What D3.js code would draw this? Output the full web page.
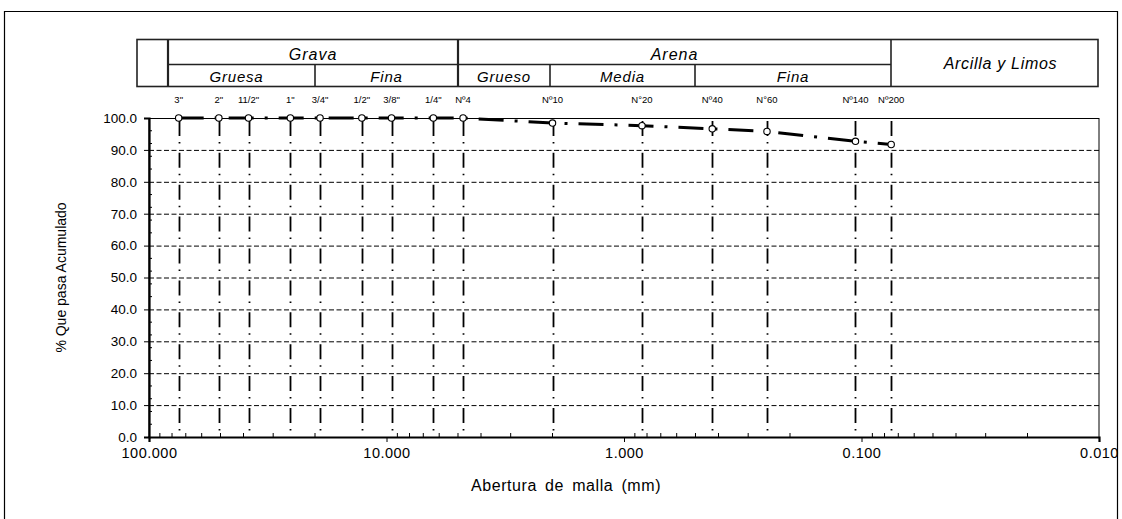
<!DOCTYPE html>
<html>
<head>
<meta charset="utf-8">
<script src="https://cdn.jsdelivr.net/npm/d3@7"></script>
<style>
  body { margin: 0; background: #fff; }
  svg { display: block; font-family: "Liberation Sans", Arial, sans-serif; }
</style>
</head>
<body>
<div id="chart"></div>
<script>
// sieve data (curva granulometrica)
const sieveLabels = ["3\"", "2\"", "11/2\"", "1\"", "3/4\"", "1/2\"", "3/8\"", "1/4\"", "Nº4", "Nº10", "N°20", "Nº40", "N°60", "Nº140", "Nº200"];
const sieveSizes = [75, 50.8, 38.1, 25.4, 19.05, 12.7, 9.525, 6.35, 4.76, 2.0, 0.84, 0.425, 0.25, 0.106, 0.075];
const pctPassing = [100, 100, 100, 100, 100, 100, 100, 100, 100, 98.4, 97.6, 96.6, 95.8, 92.7, 91.7];

// axis ticks
const yTicks = [0, 10, 20, 30, 40, 50, 60, 70, 80, 90, 100];
const yMinorTicks = [4, 8, 12, 16, 24, 28, 32, 36, 44, 48, 52, 56, 64, 68, 72, 76, 84, 88, 92, 96];
const xTicks = [100, 10, 1, 0.1, 0.01];
const xTickLabels = ["100.000", "10.000", "1.000", "0.100", "0.010"];

// header table (classification)
const headTop = ["", "Grava", "Arena", "Arcilla y Limos"];
const headSub = ["Gruesa", "Fina", "Grueso", "Media", "Fina"];

const width = 1122;
const height = 519;

const svg = d3.select("#chart")
    .append("svg")
    .attr("width", width)
    .attr("height", height);

// chart area border
svg.append("path")
    .attr("d", "M4.5,530V11.5H1117.5V530")
    .attr("fill", "none")
    .attr("stroke", "#000")
    .attr("stroke-width", 1.2);

const x = d3.scaleLog().domain([100, 0.01]).range([149, 1099]);
const y = d3.scaleLinear().domain([0, 100]).range([437, 118]);

// ---- header table ----
const hx = [137, 168, 458, 891, 1098];      // top row cell edges
const hsx = [168, 315, 458, 550, 695, 891]; // sub row cell edges
const hy0 = 39.5, hy1 = 64.5, hy2 = 86.5;
const head = svg.append("g").attr("stroke", "#222").attr("stroke-width", 1.6).attr("fill", "none");
head.append("rect").attr("x", hx[0]).attr("y", hy0).attr("width", hx[4] - hx[0]).attr("height", hy2 - hy0);
hx.slice(1, 4).forEach((v) => {
    head.append("line").attr("x1", v).attr("x2", v).attr("y1", hy0).attr("y2", hy2)
        .attr("stroke-width", v === 891 ? 1.6 : 2.2);
});
head.append("line").attr("x1", hx[1]).attr("x2", hx[3]).attr("y1", hy1).attr("y2", hy1);
[hsx[1], hsx[3], hsx[4]].forEach((v) => {
    head.append("line").attr("x1", v).attr("x2", v).attr("y1", hy1).attr("y2", hy2);
});

const headText = svg.append("g").attr("font-style", "italic").attr("fill", "#000").attr("text-anchor", "middle");
headText.append("text").attr("x", (hx[1] + hx[2]) / 2).attr("y", 60).attr("font-size", 16).attr("letter-spacing", 1).text(headTop[1]);
headText.append("text").attr("x", (hx[2] + hx[3]) / 2).attr("y", 60).attr("font-size", 16).attr("letter-spacing", 1).text(headTop[2]);
headText.append("text").attr("x", (hx[3] + hx[4]) / 2 + 6).attr("y", 69).attr("font-size", 16).attr("letter-spacing", 0.7).text(headTop[3]);
headSub.forEach((t, i) => {
    headText.append("text")
        .attr("x", (hsx[i] + hsx[i + 1]) / 2 - (i === 0 ? 5 : 0))
        .attr("y", 82)
        .attr("font-size", 15)
        .attr("letter-spacing", 0.8)
        .text(t);
});

// sieve labels above plot
svg.append("g").selectAll("text")
    .data(sieveSizes)
    .enter().append("text")
    .attr("x", (d) => x(d))
    .attr("y", 103)
    .attr("text-anchor", "middle")
    .attr("font-size", 9.5)
    .text((d, i) => sieveLabels[i]);

// ---- grid ----
svg.append("g").selectAll("line")
    .data(yTicks.filter((d) => d > 0 && d < 100))
    .enter().append("line")
    .attr("x1", x(100)).attr("x2", x(0.01))
    .attr("y1", (d) => y(d) + 0.5).attr("y2", (d) => y(d) + 0.5)
    .attr("stroke", "#000")
    .attr("stroke-width", 1)
    .attr("stroke-dasharray", "5,2.5");

svg.append("g").selectAll("line")
    .data(sieveSizes)
    .enter().append("line")
    .attr("x1", (d) => Math.round(x(d)) + 0.5).attr("x2", (d) => Math.round(x(d)) + 0.5)
    .attr("y1", y(100)).attr("y2", y(0))
    .attr("stroke", "#000")
    .attr("stroke-width", 1.8)
    .attr("stroke-dasharray", "15,6,1.5,9.4")
    .attr("stroke-dashoffset", 29);

// plot area border
svg.append("rect")
    .attr("x", x(100)).attr("y", y(100) + 0.5)
    .attr("width", x(0.01) - x(100)).attr("height", y(0) - y(100))
    .attr("fill", "none").attr("stroke", "#000").attr("stroke-width", 1);

// ---- axes ----
const yAxis = d3.axisLeft(y).tickValues(yTicks).tickFormat(d3.format(".1f")).tickSize(5).tickPadding(7);
const gy = svg.append("g").attr("transform", `translate(${x(100)},0)`).call(yAxis);
gy.select(".domain").attr("stroke-width", 2.2);
gy.selectAll("text").attr("font-size", 13.5).attr("fill", "#000").style("font-family", "inherit");

svg.append("g").selectAll("line")
    .data(yMinorTicks)
    .enter().append("line")
    .attr("x1", x(100)).attr("x2", x(100) + 3)
    .attr("y1", (d) => y(d)).attr("y2", (d) => y(d))
    .attr("stroke", "#000");

const xAxis = d3.axisBottom(x).tickValues(xTicks).tickFormat((d, i) => xTickLabels[i]).tickSize(5).tickPadding(6);
const gx = svg.append("g").attr("transform", `translate(0,${y(0)})`).call(xAxis);
gx.select(".domain").attr("stroke-width", 2.2);
gx.selectAll("text").attr("font-size", 14.5).attr("letter-spacing", 0.5).attr("fill", "#000").style("font-family", "inherit");

// log minor ticks on x
const xMinor = [];
[100, 10, 1, 0.1].forEach((dec) => {
    [2, 3, 4, 5, 6, 7, 8, 9].forEach((m) => xMinor.push(dec / 10 * m));
});
svg.append("g").selectAll("line")
    .data(xMinor)
    .enter().append("line")
    .attr("x1", (d) => x(d)).attr("x2", (d) => x(d))
    .attr("y1", y(0)).attr("y2", y(0) - 4)
    .attr("stroke", "#000");

// axis titles
svg.append("text")
    .attr("x", 566)
    .attr("y", 491)
    .attr("text-anchor", "middle")
    .attr("font-size", 16)
    .attr("letter-spacing", 0.6)
    .attr("word-spacing", 3)
    .text("Abertura de malla (mm)");

svg.append("text")
    .attr("transform", `translate(66,${(y(0) + y(100)) / 2}) rotate(-90)`)
    .attr("text-anchor", "middle")
    .attr("font-size", 14)
    .text("% Que pasa Acumulado");

// ---- curve ----
const pts = sieveSizes.map((d, i) => [d, pctPassing[i]]);
const line = d3.line().x((d) => x(d[0])).y((d) => y(d[1]));

svg.append("path")
    .datum(pts)
    .attr("d", line)
    .attr("fill", "none")
    .attr("stroke", "#000")
    .attr("stroke-width", 3)
    .attr("stroke-dasharray", "25,11,3,11");

svg.append("g").selectAll("circle")
    .data(pts)
    .enter().append("circle")
    .attr("cx", (d) => x(d[0]))
    .attr("cy", (d) => y(d[1]))
    .attr("r", 3.2)
    .attr("fill", "#fff")
    .attr("stroke", "#000")
    .attr("stroke-width", 1.1);
</script>
</body>
</html>
